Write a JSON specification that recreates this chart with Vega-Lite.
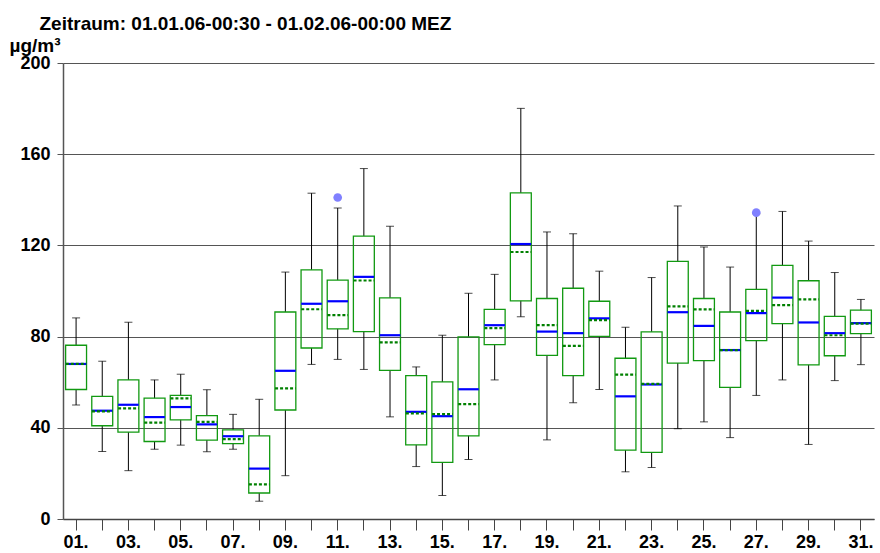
{
  "$schema": "https://vega.github.io/schema/vega-lite/v6.json",
  "autosize": "none",
  "width": 811,
  "height": 456,
  "padding": {"left": 63, "top": 63, "right": 6, "bottom": 34},
  "background": "white",
  "title": {
    "text": "Zeitraum: 01.01.06-00:30 - 01.02.06-00:00 MEZ",
    "anchor": "start",
    "frame": "group",
    "dx": -23.5,
    "dy": 23,
    "offset": 10,
    "baseline": "alphabetic",
    "font": "Liberation Sans",
    "fontSize": 19,
    "fontWeight": "bold",
    "color": "#000000"
  },
  "config": {
    "view": {"stroke": null},
    "axis": {
      "labelFont": "Liberation Sans",
      "labelFontWeight": "bold",
      "labelColor": "#000000",
      "titleFont": "Liberation Sans",
      "titleFontWeight": "bold",
      "titleColor": "#000000"
    }
  },
  "datasets": {
    "boxes": [
      {"day": "01", "lo": 50.0, "q1": 56.8, "med": 68.0, "mean": 68.0, "q3": 76.2, "hi": 88.2},
      {"day": "02", "lo": 29.6, "q1": 40.9, "med": 47.5, "mean": 47.2, "q3": 53.8, "hi": 69.2},
      {"day": "03", "lo": 21.2, "q1": 38.1, "med": 50.1, "mean": 48.5, "q3": 61.0, "hi": 86.3},
      {"day": "04", "lo": 30.6, "q1": 34.0, "med": 44.7, "mean": 42.3, "q3": 53.0, "hi": 61.0},
      {"day": "05", "lo": 32.4, "q1": 43.5, "med": 49.1, "mean": 52.9, "q3": 54.2, "hi": 63.5},
      {"day": "06", "lo": 29.5, "q1": 34.6, "med": 41.5, "mean": 42.6, "q3": 45.3, "hi": 56.7},
      {"day": "07", "lo": 30.6, "q1": 33.1, "med": 36.3, "mean": 35.0, "q3": 39.1, "hi": 45.9},
      {"day": "08", "lo": 7.8, "q1": 11.4, "med": 22.1, "mean": 15.2, "q3": 36.5, "hi": 52.5},
      {"day": "09", "lo": 19.0, "q1": 47.8, "med": 65.0, "mean": 57.3, "q3": 90.8, "hi": 108.3},
      {"day": "10", "lo": 67.8, "q1": 75.0, "med": 94.4, "mean": 92.0, "q3": 109.3, "hi": 142.9},
      {"day": "11", "lo": 70.0, "q1": 83.4, "med": 95.5, "mean": 89.4, "q3": 104.8, "hi": 136.4},
      {"day": "12", "lo": 65.6, "q1": 82.2, "med": 106.2, "mean": 104.6, "q3": 124.1, "hi": 153.7},
      {"day": "13", "lo": 44.8, "q1": 65.2, "med": 80.6, "mean": 77.5, "q3": 97.0, "hi": 128.4},
      {"day": "14", "lo": 23.0, "q1": 32.5, "med": 47.0, "mean": 46.3, "q3": 62.9, "hi": 66.7},
      {"day": "15", "lo": 10.3, "q1": 24.8, "med": 45.1, "mean": 46.0, "q3": 60.1, "hi": 80.6},
      {"day": "16", "lo": 26.1, "q1": 36.5, "med": 56.9, "mean": 50.4, "q3": 79.9, "hi": 99.0},
      {"day": "17", "lo": 61.0, "q1": 76.5, "med": 85.0, "mean": 83.7, "q3": 91.9, "hi": 107.3},
      {"day": "18", "lo": 88.7, "q1": 95.7, "med": 120.6, "mean": 117.1, "q3": 143.0, "hi": 180.1},
      {"day": "19", "lo": 34.7, "q1": 71.8, "med": 82.2, "mean": 85.0, "q3": 96.7, "hi": 125.9},
      {"day": "20", "lo": 51.0, "q1": 62.9, "med": 81.5, "mean": 75.9, "q3": 101.2, "hi": 125.1},
      {"day": "21", "lo": 56.8, "q1": 80.1, "med": 88.0, "mean": 87.2, "q3": 95.5, "hi": 108.7},
      {"day": "22", "lo": 20.7, "q1": 30.2, "med": 53.8, "mean": 63.3, "q3": 70.5, "hi": 84.1},
      {"day": "23", "lo": 22.6, "q1": 29.2, "med": 59.0, "mean": 59.3, "q3": 82.1, "hi": 105.9},
      {"day": "24", "lo": 39.6, "q1": 68.4, "med": 90.7, "mean": 93.3, "q3": 113.0, "hi": 137.3},
      {"day": "25", "lo": 42.6, "q1": 69.5, "med": 84.7, "mean": 91.9, "q3": 96.7, "hi": 119.3},
      {"day": "26", "lo": 35.7, "q1": 57.7, "med": 74.1, "mean": 74.1, "q3": 90.8, "hi": 110.5},
      {"day": "27", "lo": 54.2, "q1": 78.2, "med": 90.3, "mean": 91.3, "q3": 100.7, "hi": 133.9},
      {"day": "28", "lo": 61.0, "q1": 85.7, "med": 97.1, "mean": 93.8, "q3": 111.2, "hi": 134.9},
      {"day": "29", "lo": 32.7, "q1": 67.6, "med": 86.2, "mean": 96.3, "q3": 104.5, "hi": 121.9},
      {"day": "30", "lo": 60.7, "q1": 71.6, "med": 81.5, "mean": 80.6, "q3": 88.9, "hi": 108.1},
      {"day": "31", "lo": 67.7, "q1": 81.3, "med": 85.9, "mean": 85.7, "q3": 91.6, "hi": 96.3}
    ],
    "outliers": [
      {"day": "11", "value": 141.0},
      {"day": "27", "value": 134.4}
    ]
  },
  "data": {"name": "boxes"},
  "encoding": {
    "x": {
      "field": "day",
      "type": "ordinal",
      "scale": {"type": "band", "paddingInner": 0, "paddingOuter": 0},
      "axis": {
        "title": null,
        "labelExpr": "parseInt(datum.value) % 2 == 1 ? datum.value + '.' : ''",
        "labelAngle": 0,
        "labelFontSize": 18,
        "labelOverlap": false,
        "labelPadding": 3,
        "labelDx": 2.5,
        "tickSize": 11,
        "tickColor": "#444444",
        "tickWidth": 1,
        "domainColor": "#444444",
        "domainWidth": 1.5,
        "grid": false
      }
    }
  },
  "layer": [
    {
      "mark": {"type": "rule", "color": "#000000", "strokeWidth": 1},
      "encoding": {
        "y": {
          "field": "lo",
          "type": "quantitative",
          "scale": {"domain": [0, 200], "nice": false, "zero": true},
          "axis": {
            "title": "µg/m³",
            "titleAngle": 0,
            "titleAlign": "left",
            "titleBaseline": "alphabetic",
            "titleX": -54,
            "titleY": -12,
            "titleFontSize": 19,
            "values": [0, 40, 80, 120, 160, 200],
            "labelFontSize": 18,
            "labelPadding": 7,
            "tickSize": 6,
            "tickColor": "#555555",
            "domainColor": "#555555",
            "domainWidth": 1.5,
            "grid": true,
            "gridColor": "#555555",
            "gridWidth": 1
          }
        },
        "y2": {"field": "q1"}
      }
    },
    {
      "mark": {"type": "rule", "color": "#000000", "strokeWidth": 1},
      "encoding": {
        "y": {"field": "q3", "type": "quantitative"},
        "y2": {"field": "hi"}
      }
    },
    {
      "mark": {"type": "tick", "color": "#000000", "size": 8, "thickness": 1},
      "encoding": {"y": {"field": "lo", "type": "quantitative"}}
    },
    {
      "mark": {"type": "tick", "color": "#000000", "size": 8, "thickness": 1},
      "encoding": {"y": {"field": "hi", "type": "quantitative"}}
    },
    {
      "mark": {"type": "bar", "width": {"band": 0.8}, "fill": "white", "fillOpacity": 0, "stroke": "#119911", "strokeWidth": 1.3},
      "encoding": {
        "y": {"field": "q1", "type": "quantitative"},
        "y2": {"field": "q3"}
      }
    },
    {
      "mark": {"type": "rule", "color": "#0000ff", "strokeWidth": 2.2, "xOffset": -10.3, "x2Offset": 10.3},
      "encoding": {
        "y": {"field": "med", "type": "quantitative"},
        "x2": {"field": "day"}
      }
    },
    {
      "mark": {"type": "rule", "color": "#008000", "strokeWidth": 2.2, "strokeDash": [3, 2], "xOffset": -10.3, "x2Offset": 10.3},
      "encoding": {
        "y": {"field": "mean", "type": "quantitative"},
        "x2": {"field": "day"}
      }
    },
    {
      "data": {"name": "outliers"},
      "mark": {"type": "point", "filled": true, "color": "#8080ff", "opacity": 1, "size": 75},
      "encoding": {"y": {"field": "value", "type": "quantitative"}}
    }
  ]
}
